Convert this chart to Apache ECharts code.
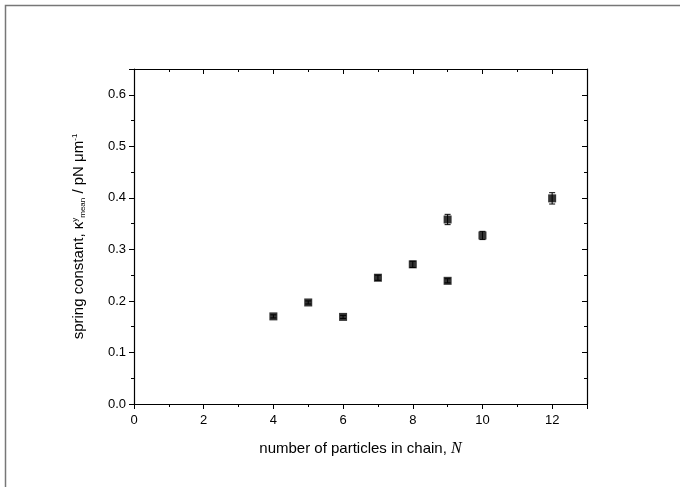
<!DOCTYPE html>
<html>
<head>
<meta charset="utf-8">
<script src="https://cdn.jsdelivr.net/npm/echarts@6/dist/echarts.min.js"></script>
<style>
  html, body { margin: 0; padding: 0; background: #fff; }
</style>
</head>
<body>
<div id="main" style="width: 680px;height: 487px"></div>
<script type="text/javascript">
    // 数据
    var nParticles = [4, 5, 6, 7, 8, 9, 9, 10, 12];
    var kappaMean = [0.170, 0.197, 0.169, 0.245, 0.271, 0.358, 0.239, 0.327, 0.399];
    var kappaErr = [0.003, 0.003, 0.003, 0.005, 0.006, 0.010, 0.004, 0.008, 0.011];
    var xTicks = [0, 2, 4, 6, 8, 10, 12];
    var yTicks = [0.0, 0.1, 0.2, 0.3, 0.4, 0.5, 0.6];

    var myChart = echarts.init(document.getElementById('main'));

    var font = '"Liberation Sans", Arial, sans-serif';
    var axisColor = '#000';

    var points = nParticles.map(function (n, i) { return [n, kappaMean[i]]; });
    var errData = nParticles.map(function (n, i) { return [n, kappaMean[i] - kappaErr[i], kappaMean[i] + kappaErr[i]]; });

    var option = {
        animation: false,
        backgroundColor: '#fff',
        grid: { left: 134, top: 69, right: 93, bottom: 83, containLabel: false },
        xAxis: [{
            type: 'value', min: 0, max: 13, interval: 2, position: 'bottom',
            name: '{t|number of particles in chain, }{n|N}',
            nameLocation: 'middle', nameGap: 37,
            nameTextStyle: { rich: {
                t: { fontFamily: font, fontSize: 15, color: '#000' },
                n: { fontFamily: '"Liberation Serif", "DejaVu Serif", serif', fontStyle: 'italic', fontSize: 16, color: '#000' }
            } },
            axisLine: { show: true, onZero: false, lineStyle: { color: axisColor, width: 1.2 } },
            axisTick: { show: true, inside: false, length: 5, lineStyle: { color: axisColor } },
            minorTick: { show: true, splitNumber: 2, length: 3, lineStyle: { color: axisColor } },
            axisLabel: { fontFamily: font, fontSize: 13, color: '#000', margin: 10, showMaxLabel: false,
                formatter: function (v) { return xTicks.indexOf(v) >= 0 ? String(v) : ''; } },
            splitLine: { show: false }
        }, {
            type: 'value', min: 0, max: 13, interval: 2, position: 'top',
            axisLine: { show: true, onZero: false, lineStyle: { color: axisColor, width: 1.2 } },
            axisTick: { show: true, inside: true, length: 5, lineStyle: { color: axisColor } },
            minorTick: { show: true, splitNumber: 2, length: 3, lineStyle: { color: axisColor } },
            axisLabel: { show: false },
            splitLine: { show: false }
        }],
        yAxis: [{
            type: 'value', min: 0, max: 0.65, interval: 0.1, position: 'left',
            name: '{t|spring constant, κ}{sup|y}{sub|mean}{t| / pN μm}{sup|-1}',
            nameLocation: 'middle', nameGap: 47, nameRotate: 90,
            nameTextStyle: { rich: {
                t: { fontFamily: font, fontSize: 15, color: '#000' },
                sup: { fontFamily: font, fontSize: 8, color: '#000', verticalAlign: 'top', padding: [0, 0, 8, 0] },
                sub: { fontFamily: font, fontSize: 8, color: '#000', verticalAlign: 'bottom', padding: [6, 0, 0, 0] }
            } },
            axisLine: { show: true, onZero: false, lineStyle: { color: axisColor, width: 1.2 } },
            axisTick: { show: true, inside: false, length: 5, lineStyle: { color: axisColor } },
            minorTick: { show: true, splitNumber: 2, length: 3, lineStyle: { color: axisColor } },
            axisLabel: { fontFamily: font, fontSize: 13, color: '#000', margin: 8, showMaxLabel: false,
                formatter: function (v) {
                    var r = Math.round(v * 10) / 10;
                    return yTicks.indexOf(r) >= 0 ? r.toFixed(1) : '';
                } },
            splitLine: { show: false }
        }, {
            type: 'value', min: 0, max: 0.65, interval: 0.1, position: 'right',
            axisLine: { show: true, onZero: false, lineStyle: { color: axisColor, width: 1.2 } },
            axisTick: { show: true, inside: true, length: 5, lineStyle: { color: axisColor } },
            minorTick: { show: true, splitNumber: 2, length: 3, lineStyle: { color: axisColor } },
            axisLabel: { show: false },
            splitLine: { show: false }
        }],
        graphic: [{
            type: 'polyline', silent: true,
            shape: { points: [[5.5, 500], [5.5, 5.5], [700, 5.5]] },
            style: { stroke: '#777', lineWidth: 1.5, fill: null }
        }],
        series: [{
            type: 'custom',
            xAxisIndex: 0, yAxisIndex: 0,
            data: errData,
            z: 1,
            renderItem: function (params, api) {
                var lo = api.coord([api.value(0), api.value(1)]);
                var hi = api.coord([api.value(0), api.value(2)]);
                var cap = 3;
                var st = { stroke: '#000', lineWidth: 1 };
                return { type: 'group', children: [
                    { type: 'line', shape: { x1: lo[0], y1: lo[1], x2: hi[0], y2: hi[1] }, style: st },
                    { type: 'line', shape: { x1: lo[0] - cap, y1: lo[1], x2: lo[0] + cap, y2: lo[1] }, style: st },
                    { type: 'line', shape: { x1: hi[0] - cap, y1: hi[1], x2: hi[0] + cap, y2: hi[1] }, style: st }
                ] };
            }
        }, {
            type: 'scatter',
            xAxisIndex: 0, yAxisIndex: 0,
            data: points,
            symbol: 'rect',
            symbolSize: 8,
            z: 2,
            itemStyle: { color: '#000' }
        }]
    };

    myChart.setOption(option);
</script>
</body>
</html>
